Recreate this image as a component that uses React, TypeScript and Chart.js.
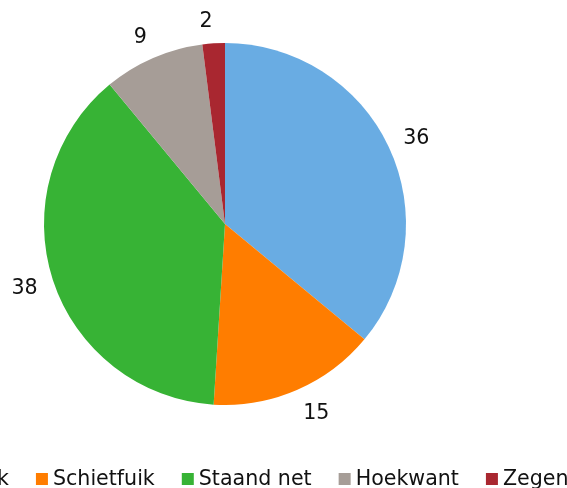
import React, { useEffect, useRef } from "react";
import { Chart, registerables } from "chart.js";

Chart.register(...registerables);

const categories = ["Fuik", "Schietfuik", "Staand net", "Hoekwant", "Zegen"];
const values = [36, 15, 38, 9, 2];
const colors = ["#69ace3", "#ff7d00", "#37b335", "#a69d97", "#a92730"];

const FONT = "20.6px 'DejaVu Sans', Verdana, sans-serif";

const outLabels = {
  id: "outLabels",
  afterDatasetsDraw(chart: any) {
    const ctx = chart.ctx;
    const meta = chart.getDatasetMeta(0);
    const data = chart.data.datasets[0].data as number[];
    ctx.save();
    ctx.font = FONT;
    ctx.fillStyle = "#111";
    ctx.textAlign = "center";
    ctx.textBaseline = "middle";
    meta.data.forEach((arc: any, i: number) => {
      const p = arc.getProps(["x", "y", "startAngle", "endAngle", "outerRadius"], true);
      const mid = (p.startAngle + p.endAngle) / 2;
      const ux = Math.cos(mid);
      const uy = Math.sin(mid);
      const txt = String(data[i]);
      const w = ctx.measureText(txt).width;
      const h = 15;
      const r = p.outerRadius + 16;
      const cx = p.x + ux * r + (Math.sign(ux) * w) / 2;
      const cy = p.y + uy * r + (uy * h) / 2 + 1.5;
      ctx.fillText(txt, cx, cy);
    });
    ctx.restore();
  },
};

const customLegend = {
  id: "customLegend",
  afterDraw(chart: any) {
    const ctx = chart.ctx;
    const labels = chart.data.labels as string[];
    const bg = chart.data.datasets[0].backgroundColor as string[];
    const box = 12;
    const gap = 5;
    const spacing = 27;
    const centerX = 259.5;
    const yMid = 479;
    ctx.save();
    ctx.font = FONT;
    const widths = labels.map((l) => ctx.measureText(l).width);
    const total =
      widths.reduce((a, b) => a + b + box + gap, 0) + spacing * (labels.length - 1);
    let x = centerX - total / 2;
    ctx.textAlign = "left";
    ctx.textBaseline = "middle";
    labels.forEach((l, i) => {
      ctx.fillStyle = bg[i];
      ctx.fillRect(x, yMid - box / 2, box, box);
      ctx.fillStyle = "#111";
      ctx.fillText(l, x + box + gap, yMid + 0.5);
      x += box + gap + widths[i] + spacing;
    });
    ctx.restore();
  },
};

export default function App() {
  const ref = useRef<HTMLCanvasElement | null>(null);
  useEffect(() => {
    if (!ref.current) return;
    const chart = new Chart(ref.current, {
      type: "pie",
      data: {
        labels: categories,
        datasets: [
          {
            data: values,
            backgroundColor: colors,
            borderWidth: 0,
            hoverOffset: 0,
          },
        ],
      },
      options: {
        responsive: false,
        animation: false,
        devicePixelRatio: 1,
        rotation: 0,
        layout: { padding: { left: 44, right: 161, top: 43, bottom: 83 } },
        plugins: {
          legend: { display: false },
          tooltip: { enabled: false },
        },
      },
      plugins: [outLabels, customLegend],
    });
    return () => chart.destroy();
  }, []);
  return (
    <div style={{ position: "fixed", left: 0, top: 0, width: 567, height: 488, background: "#fff" }}>
      <canvas ref={ref} width={567} height={488} style={{ display: "block" }} />
    </div>
  );
}
